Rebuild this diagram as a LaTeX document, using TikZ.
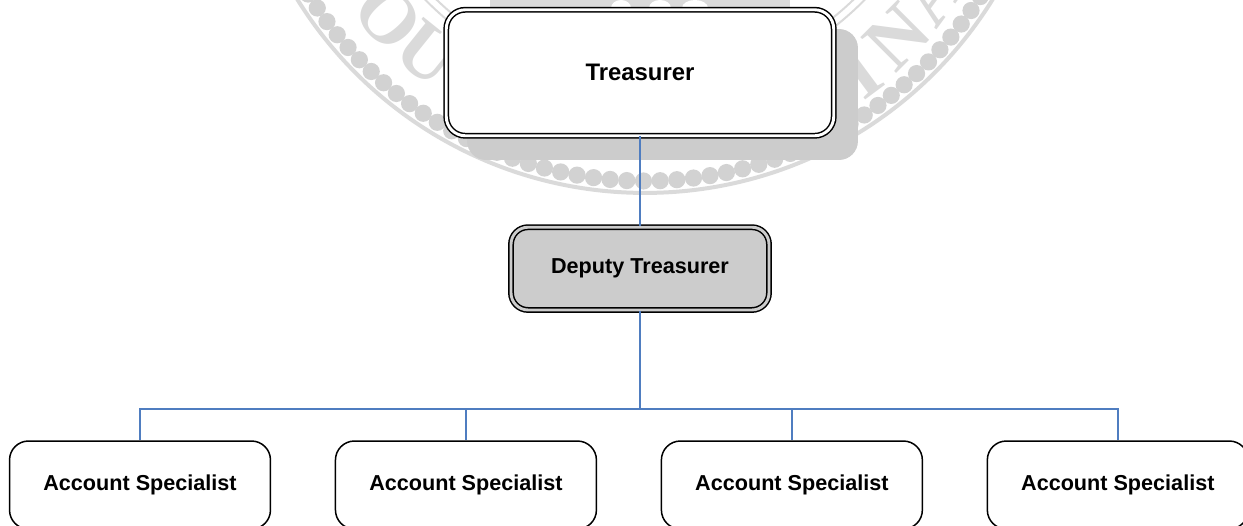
\documentclass[tikz,border=0pt]{standalone}
\usepackage{fontspec}
\setmainfont{Liberation Sans}
\newfontfamily\sealfont{Liberation Serif}
\usepackage{tikz}
\usetikzlibrary{positioning}

\definecolor{sealGray}{HTML}{DADADA}
\definecolor{beadGray}{HTML}{D2D2D2}
\definecolor{shadowGray}{HTML}{CCCCCC}
\definecolor{lineBlue}{HTML}{4F7DC0}

\tikzset{
  boxNode/.style = {rectangle, draw, rounded corners = 0.38cm, line width = 0.03cm, inner sep = 0pt, font = \fontsize{12.3}{14}\bfseries, text = black},
  doubleNode/.style = {boxNode, double, double distance = 0.058cm, minimum width = 7.75cm, minimum height = 2.52cm, fill = white, font = \fontsize{13.6}{15}\bfseries},
  acctNode/.style = {boxNode, minimum width = 5.22cm, minimum height = 1.76cm, fill = white},
  connector/.style = {draw = lineBlue, line width = 0.032cm},
  sealLetter/.style = {text = sealGray, font = \sealfont\bfseries\fontsize{44}{44}\selectfont, inner sep = 0pt}
}

\begin{document}
\begin{tikzpicture}[x = 0.02cm, y = -0.02cm]
        \clip (0, 0) rectangle (1243, 525);

        % seal behind the chart
        \foreach \a in {13.1, 15.51, ..., 168} {
          \fill[beadGray] ({645 + 397 * cos(\a)}, {-216 + 397 * sin(\a)}) circle (0.172cm);
        }
        \draw[sealGray, line width = 0.08cm] (645, -216) circle (8.18cm);
        \draw[sealGray, line width = 0.04cm] (645, -216) circle (6cm);
        \draw[sealGray, line width = 0.04cm] (645, -216) circle (6.16cm);
        \fill[sealGray] (490, 0) rectangle (790, 8);
        \fill[white] (621, 8) ellipse (0.2cm and 0.16cm);
        \fill[white] (660, 8) ellipse (0.22cm and 0.16cm);
        \fill[white] (695, 8) ellipse (0.26cm and 0.16cm);
        \node[sealLetter, rotate = -47.8] (oLetter) at (388, 17) {O};
        \node[sealLetter, rotate = -38.8] (uLetter) at (428, 54) {U};
        \node[sealLetter, rotate = 36.6] (iLetter) at (860, 72) {I};
        \node[sealLetter, rotate = 45] (nLetter) at (897, 37) {N};
        \node[sealLetter, rotate = 54] (aLetter) at (932, -7) {A};

        \node[rectangle, rounded corners = 0.38cm, fill = shadowGray, minimum width = 7.82cm, minimum height = 2.62cm, inner sep = 0pt] (treasurerShadow) at (662.5, 94.5) {};

        \node[doubleNode] (treasurerNode) at (640, 72.75) {Treasurer};
        \node[doubleNode, fill = shadowGray, double = shadowGray, minimum width = 5.16cm, minimum height = 1.655cm, rounded corners = 0.34cm, font = \fontsize{12.3}{14}\bfseries] (deputyNode) [below = 1.8cm of treasurerNode] {Deputy Treasurer};
        \node[acctNode] (acctOneNode) at (140, 485) {Account Specialist};
        \node[acctNode] (acctTwoNode) [right = 1.27cm of acctOneNode] {Account Specialist};
        \node[acctNode] (acctThreeNode) [right = 1.27cm of acctTwoNode] {Account Specialist};
        \node[acctNode] (acctFourNode) [right = 1.27cm of acctThreeNode] {Account Specialist};
        \coordinate (busNode) at (640, 409);

        \draw[connector] (treasurerNode) -- (deputyNode);
        \draw[connector] (deputyNode) -- (busNode);
        \draw[connector] (busNode) -| (acctOneNode);
        \draw[connector] (busNode) -| (acctTwoNode);
        \draw[connector] (busNode) -| (acctThreeNode);
        \draw[connector] (busNode) -| (acctFourNode);
      \end{tikzpicture}
\end{document}
